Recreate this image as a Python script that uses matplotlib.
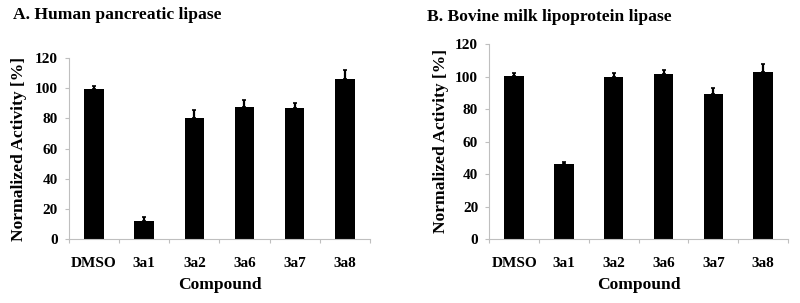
import matplotlib

matplotlib.use("Agg")
import matplotlib.pyplot as plt
import numpy as np

compounds = ["DMSO", "3a1", "3a2", "3a6", "3a7", "3a8"]

# panel A: human pancreatic lipase
hpl_activity = [99.7, 12.1, 80.5, 87.8, 86.7, 106.1]
hpl_err = [1.5, 2.7, 5.1, 4.4, 3.5, 6.0]

# panel B: bovine milk lipoprotein lipase
lpl_activity = [100.1, 46.1, 99.9, 101.4, 89.5, 102.8]
lpl_err = [2.3, 1.2, 2.3, 2.6, 3.7, 4.7]

yticks = [0, 20, 40, 60, 80, 100, 120]

plt.rcParams["font.family"] = ["Liberation Serif", "DejaVu Serif"]
plt.rcParams["font.weight"] = "bold"

AXIS_GREY = "#bfbfbf"


def _draw_panel(ax, values, errs):
    x = np.arange(len(compounds))
    ax.bar(x, values, width=0.39, color="black", zorder=2)
    ax.errorbar(
        x, values, yerr=[np.zeros(len(errs)), errs], fmt="none",
        ecolor="black", elinewidth=1.6, capsize=1.4, capthick=1.2, zorder=3,
    )
    ax.set_xlim(-0.5, len(compounds) - 0.5)
    ax.set_ylim(0, 120)
    ax.set_yticks(yticks)
    ax.set_xticks(x)
    ax.set_xticklabels(compounds, fontsize=11, fontweight="bold")
    ax.set_xticks(np.arange(len(compounds) + 1) - 0.5, minor=True)
    ax.tick_params(axis="x", which="major", length=0, pad=13)
    ax.tick_params(axis="x", which="minor", length=3, color=AXIS_GREY, width=0.8)
    ax.tick_params(axis="y", length=3, color=AXIS_GREY, width=0.8, pad=5, labelsize=11)
    for lab in ax.get_yticklabels():
        lab.set_fontweight("bold")
    for side in ["top", "right"]:
        ax.spines[side].set_visible(False)
    for side in ["left", "bottom"]:
        ax.spines[side].set_color(AXIS_GREY)
        ax.spines[side].set_linewidth(0.8)


fig = plt.figure(figsize=(8, 3.03), dpi=100)
ax1 = fig.add_axes([0.08625, 0.2102, 0.376, 0.5984])
ax2 = fig.add_axes([0.6116, 0.2102, 0.3734, 0.6446])

_draw_panel(ax1, hpl_activity, hpl_err)
_draw_panel(ax2, lpl_activity, lpl_err)

lab_fs = 12.6
fig.text(13 / 800, 1 - 15 / 303, "A. Human pancreatic lipase", ha="left", va="center",
         fontsize=lab_fs, fontweight="bold")
fig.text(427 / 800, 1 - 17 / 303, "B. Bovine milk lipoprotein lipase", ha="left", va="center",
         fontsize=lab_fs, fontweight="bold")

fig.text(19.5 / 800, 1 - 149 / 303, "Normalized Activity [%]", rotation=90, ha="center",
         va="center", fontsize=lab_fs, fontweight="bold")
fig.text(441 / 800, 1 - 141 / 303, "Normalized Activity [%]", rotation=90, ha="center",
         va="center", fontsize=lab_fs, fontweight="bold")

fig.text(220 / 800, 1 - 285 / 303, "Compound", ha="center", va="center",
         fontsize=lab_fs, fontweight="bold")
fig.text(639 / 800, 1 - 285 / 303, "Compound", ha="center", va="center",
         fontsize=lab_fs, fontweight="bold")

fig.savefig("out.png", dpi=100)
plt.close(fig)
